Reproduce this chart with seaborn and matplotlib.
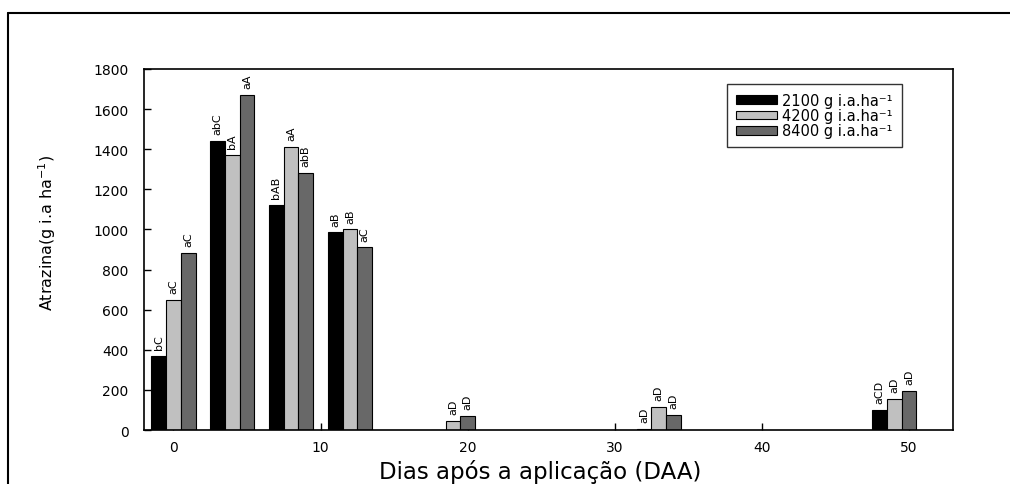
import pandas as pd
import seaborn as sns
import matplotlib.pyplot as plt
from matplotlib.lines import Line2D

# days after application and the three doses
days = [0, 4, 8, 12, 19, 33, 49]
doses = ['2100 g i.a.ha⁻¹', '4200 g i.a.ha⁻¹', '8400 g i.a.ha⁻¹']

# atrazine values
dose_2100 = [370, 1440, 1120, 985, 0, 5, 100]
dose_4200 = [650, 1370, 1410, 1000, 45, 115, 155]
dose_8400 = [885, 1670, 1280, 910, 70, 75, 195]

# letters over the bars
letters_2100 = ['bC', 'abC', 'bAB', 'aB', '', 'aD', 'aCD']
letters_4200 = ['aC', 'bA', 'aA', 'aB', 'aD', 'aD', 'aD']
letters_8400 = ['aC', 'aA', 'abB', 'aC', 'aD', 'aD', 'aD']

df = pd.DataFrame({
    'dia': days * 3,
    'valor': dose_2100 + dose_4200 + dose_8400,
    'dose': [doses[0]] * 7 + [doses[1]] * 7 + [doses[2]] * 7,
})

sns.set_style('ticks')
plt.rcParams['font.family'] = ['DejaVu Sans']
plt.rcParams['text.color'] = 'black'
plt.rcParams['axes.labelcolor'] = 'black'
plt.rcParams['xtick.color'] = 'black'
plt.rcParams['ytick.color'] = 'black'

fig = plt.figure(figsize=(10.1, 4.85), dpi=100)
ax = fig.add_axes([0.1426, 0.1113, 0.8010, 0.7444])

sns.barplot(data=df, x='dia', y='valor', hue='dose', native_scale=True,
            palette=['#000000', '#c0c0c0', '#686868'], width=0.75,
            edgecolor='black', linewidth=0.8, errorbar=None, ax=ax)

for cont, labs in zip(ax.containers, [letters_2100, letters_4200, letters_8400]):
    ax.bar_label(cont, labels=labs, rotation=90, padding=5, fontsize=8)

ax.set_xlim(-2, 53)
ax.set_ylim(0, 1800)
ax.set_xticks([0, 10, 20, 30, 40, 50])
ax.set_yticks(range(0, 1801, 200))
ax.tick_params(direction='in', length=5, width=1, labelsize=10)
ax.tick_params(axis='y', pad=11)
ax.tick_params(axis='x', pad=7)
for sp in ax.spines.values():
    sp.set_visible(True)
    sp.set_linewidth(1.2)
    sp.set_color('black')

ax.set_xlabel('Dias após a aplicação (DAA)', fontsize=16.5)
ax.set_ylabel('Atrazina(g i.a ha$^{-1}$)', fontsize=11.5)
ax.xaxis.set_label_coords(0.49, -0.08)
ax.yaxis.set_label_coords(-0.106, 0.55)

handles, labels = ax.get_legend_handles_labels()
leg = ax.legend(handles, labels, loc='upper left', bbox_to_anchor=(0.7206, 0.958),
                fontsize=10.5, frameon=True, fancybox=False, shadow=False,
                handlelength=2.8, handleheight=0.55, labelspacing=0.02,
                borderpad=0.6, handletextpad=0.4, borderaxespad=0)
leg.get_frame().set_edgecolor('black')
leg.get_frame().set_linewidth(1)

# outer frame of the figure (left and top edges)
fig.add_artist(Line2D([8 / 1010, 8 / 1010], [0, 1 - 14 / 485], color='black', lw=1.5))
fig.add_artist(Line2D([8 / 1010, 1], [1 - 14 / 485, 1 - 14 / 485], color='black', lw=1.5))

fig.savefig('out.png', dpi=100)
